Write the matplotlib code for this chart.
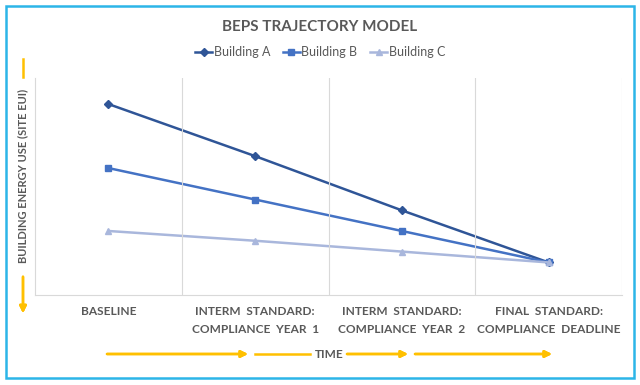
import matplotlib.pyplot as plt
from matplotlib.patches import Rectangle

W, H = 640, 385

categories = ["BASELINE",
              "INTERM  STANDARD:\nCOMPLIANCE  YEAR  1",
              "INTERM  STANDARD:\nCOMPLIANCE  YEAR  2",
              "FINAL  STANDARD:\nCOMPLIANCE  DEADLINE"]
building_a = [88, 64, 39, 15]
building_b = [58.5, 44, 29.5, 15]
building_c = [29.5, 25, 20, 15]

gray = "#595959"
orange = "#FFC000"
plt.rcParams['font.family'] = ['Lato', 'DejaVu Sans']


def fx(x):
    return x / W


def fy(y):
    return 1 - y / H


fig = plt.figure(figsize=(6.4, 3.85), dpi=100)
fig.patches.append(Rectangle((fx(6), fy(378)), fx(628), (372) / H, transform=fig.transFigure,
                             fill=False, edgecolor="#2CB5E8", linewidth=1.8))

ax = fig.add_axes([fx(35), fy(295), fx(622 - 35), (295 - 78) / H])
x = range(len(categories))
ax.plot(x, building_a, color="#2F5597", marker="D", markersize=4.5, linewidth=1.8, label="Building A")
ax.plot(x, building_b, color="#4472C4", marker="s", markersize=5, linewidth=1.8, label="Building B")
ax.plot(x, building_c, color="#A9B7DC", marker="^", markersize=5, linewidth=1.8, label="Building C")
ax.set_xlim(-0.5, 3.5)
ax.set_ylim(0, 100)
ax.set_yticks([])
ax.set_xticks(list(x))
ax.set_xticklabels(categories, fontsize=8.6, fontweight="bold", color=gray, linespacing=1.75)
ax.tick_params(axis="x", length=0, pad=8)
for b in [0.5, 1.5, 2.5, 3.5]:
    ax.axvline(b, color="#D9D9D9", linewidth=0.8)
for s in ["top", "right"]:
    ax.spines[s].set_visible(False)
ax.spines["left"].set_color("#D9D9D9")
ax.spines["bottom"].set_color("#D9D9D9")

fig.text(0.5, fy(27), "BEPS TRAJECTORY MODEL", ha="center", va="center",
         fontsize=11, fontweight="bold", color=gray)
fig.legend(loc="center", bbox_to_anchor=(0.5, fy(52)), ncol=3, frameon=False, fontsize=9,
           handlelength=1.4, handletextpad=0.1, columnspacing=1.0, labelcolor=gray)

# y-axis label with arrow
fig.text(fx(23), fy(176), "BUILDING ENERGY USE (SITE EUI)", rotation=90, ha="center", va="center",
         fontsize=8, fontweight="bold", color=gray)
fig.lines.append(plt.Line2D([fx(23), fx(23)], [fy(59), fy(77)], transform=fig.transFigure,
                            color=orange, linewidth=1.8))
fig.add_artist(plt.annotate("", xy=(fx(23), fy(316)), xytext=(fx(23), fy(274)), xycoords=fig.transFigure,
                            textcoords=fig.transFigure,
                            arrowprops=dict(arrowstyle="-|>", color=orange, lw=1.8, mutation_scale=10)))

# time arrows
arrow_kw = dict(arrowstyle="-|>", color=orange, lw=1.8, mutation_scale=10, shrinkA=0, shrinkB=0)
for x0, x1 in [(107, 248), (347, 408), (415, 552)]:
    fig.add_artist(plt.annotate("", xy=(fx(x1), fy(354)), xytext=(fx(x0), fy(354)),
                                xycoords=fig.transFigure, textcoords=fig.transFigure, arrowprops=arrow_kw))
fig.lines.append(plt.Line2D([fx(255), fx(310)], [fy(354), fy(354)], transform=fig.transFigure,
                            color=orange, linewidth=1.8))
fig.text(fx(329), fy(354), "TIME", ha="center", va="center", fontsize=8.5, fontweight="bold", color=gray)

fig.savefig("out.png", dpi=100)
